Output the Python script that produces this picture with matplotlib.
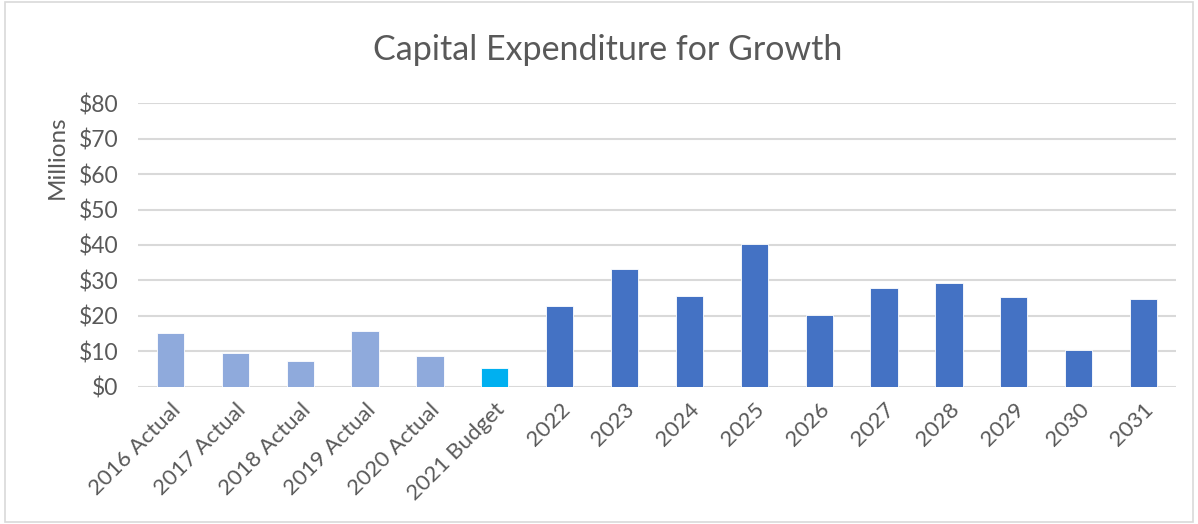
import matplotlib.pyplot as plt
from matplotlib.patches import Rectangle

# Data (millions of dollars)
categories = ['2016 Actual', '2017 Actual', '2018 Actual', '2019 Actual', '2020 Actual',
              '2021 Budget', '2022', '2023', '2024', '2025', '2026', '2027', '2028',
              '2029', '2030', '2031']
values = [15.2, 9.6, 7.3, 15.9, 8.8, 5.4, 22.9, 33.1, 25.6, 40.2, 20.3, 27.9, 29.2,
          25.3, 10.4, 24.7]
colors = ['#8FAADC'] * 5 + ['#00B0F0'] + ['#4472C4'] * 10
yticks = [0, 10, 20, 30, 40, 50, 60, 70, 80]

plt.rcParams['font.family'] = ['Lato', 'DejaVu Sans']
text_color = '#595959'

fig = plt.figure(figsize=(11.98, 5.24), dpi=100)
ax = fig.add_axes([0.1152, 0.2615, 0.8664, 0.5419])

x = range(len(categories))
ax.bar(x, values, width=0.42, color=colors, edgecolor='white', linewidth=0.6, zorder=3)

ax.set_xlim(-0.5, len(categories) - 0.5)
ax.set_ylim(0, 80)
ax.set_yticks(yticks)
ax.set_yticklabels([f'${v}' for v in yticks], fontsize=16.5, color=text_color)
ax.set_xticks(list(x))
ax.set_xticklabels(categories, rotation=45, ha='right', rotation_mode='anchor',
                   fontsize=16, color=text_color)
ax.tick_params(axis='both', length=0)
ax.tick_params(axis='y', pad=14)
ax.tick_params(axis='x', pad=9)
ax.grid(axis='y', color='#D9D9D9', linewidth=1.5, zorder=0)
for s in ax.spines.values():
    s.set_visible(False)

fig.text(0.507, 0.905, 'Capital Expenditure for Growth', ha='center', va='center',
         fontsize=24.5, color=text_color)
fig.text(0.048, 0.70, 'Millions', rotation=90, ha='center', va='center',
         fontsize=17.5, color=text_color)

# chart border
fig.patches.append(Rectangle((0.004, 0.004), 0.992, 0.992, transform=fig.transFigure,
                             fill=False, edgecolor='#D9D9D9', linewidth=1.2))

fig.savefig('out.png', dpi=100)
